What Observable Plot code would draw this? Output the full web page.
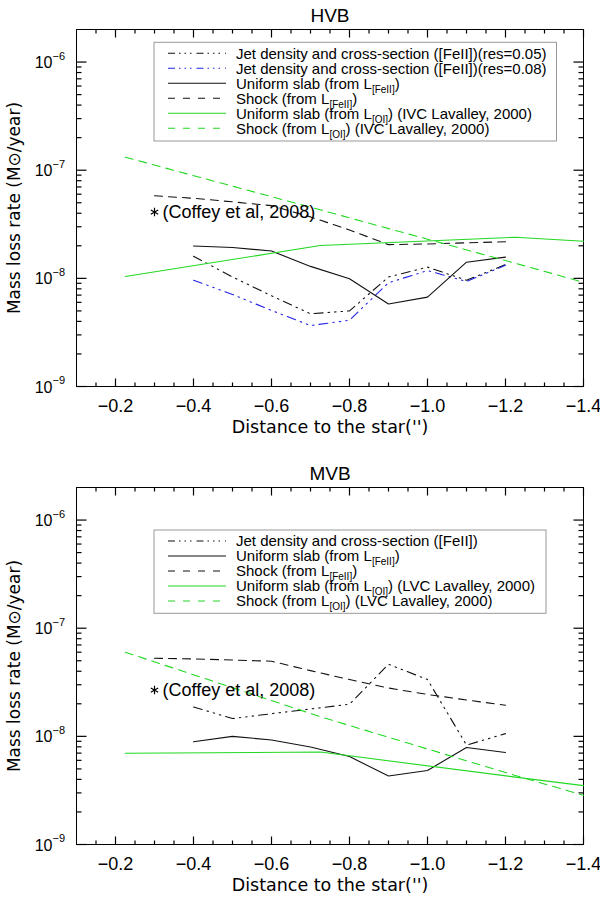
<!DOCTYPE html>
<html>
<head>
<meta charset="utf-8">
<script src="https://cdn.jsdelivr.net/npm/d3@7"></script>
<script src="https://cdn.jsdelivr.net/npm/@observablehq/plot@0.6"></script>
<style>
  html, body { margin: 0; padding: 0; background: #fff; }
  svg { display: block; }
</style>
</head>
<body>
<div id="chart"></div>
<script>
// ---------------- data ----------------
const feX    = [-0.4, -0.5, -0.6, -0.7, -0.8, -0.9, -1.0, -1.1, -1.2];
const shockX = [-0.3, -0.4, -0.5, -0.6, -0.7, -0.8, -0.9, -1.0, -1.1, -1.2];
const oiX    = [-0.225, -0.725, -1.225, -1.4];

// HVB
const hvbJet05   = [1.6e-8, 1.03e-8, 6.9e-9, 4.7e-9, 5.0e-9, 1.03e-8, 1.27e-8, 9.6e-9, 1.34e-8];
const hvbJet08   = [9.6e-9, 7.1e-9, 5.05e-9, 3.66e-9, 4.1e-9, 9.1e-9, 1.18e-8, 9.35e-9, 1.32e-8];
const hvbSlab    = [1.99e-8, 1.93e-8, 1.79e-8, 1.29e-8, 9.9e-9, 5.8e-9, 6.7e-9, 1.41e-8, 1.57e-8];
const hvbShock   = [5.8e-8, 5.5e-8, 5.1e-8, 4.7e-8, 3.7e-8, 2.8e-8, 2.05e-8, 2.08e-8, 2.13e-8, 2.18e-8];
const hvbOISlab  = [1.04e-8, 2.01e-8, 2.4e-8, 2.2e-8];
const hvbOIShock = [1.32e-7, 4.3e-8, 1.38e-8, 9.2e-9];
const hvbCoffey  = {x: -0.3, y: 4.1e-8};

// MVB
const mvbJet     = [1.87e-8, 1.46e-8, 1.62e-8, 1.79e-8, 1.98e-8, 4.64e-8, 3.35e-8, 8.3e-9, 1.06e-8];
const mvbSlab    = [8.9e-9, 1.0e-8, 9.25e-9, 7.96e-9, 6.5e-9, 4.3e-9, 4.84e-9, 7.9e-9, 7.1e-9];
const mvbShock   = [5.27e-8, 5.2e-8, 5.08e-8, 4.95e-8, 4.05e-8, 3.35e-8, 2.8e-8, 2.44e-8, 2.17e-8, 1.94e-8];
const mvbOISlab  = [6.97e-9, 7.16e-9, 4.2e-9, 3.5e-9];
const mvbOIShock = [6.0e-8, 1.52e-8, 4.35e-9, 2.85e-9];
const mvbCoffey  = {x: -0.3, y: 2.68e-8};

const coffeyLabel = "(Coffey et al, 2008)";

// axes
const xDomain = [-0.1, -1.4];
const yDomain = [1e-9, 2e-6];
const xMajor  = [-0.2, -0.4, -0.6, -0.8, -1.0, -1.2, -1.4];
const xMinor  = [-0.15, -0.25, -0.3, -0.35, -0.45, -0.5, -0.55, -0.65, -0.7, -0.75, -0.85, -0.9, -0.95, -1.05, -1.1, -1.15, -1.25, -1.3, -1.35];
const yMajor  = [1e-9, 1e-8, 1e-7, 1e-6];
const yMinor  = [2e-9, 3e-9, 4e-9, 5e-9, 6e-9, 7e-9, 8e-9, 9e-9,
                 2e-8, 3e-8, 4e-8, 5e-8, 6e-8, 7e-8, 8e-8, 9e-8,
                 2e-7, 3e-7, 4e-7, 5e-7, 6e-7, 7e-7, 8e-7, 9e-7];
const yExp    = ["−9", "−8", "−7", "−6"];
const xTitle  = "Distance to the star('')";
const yTitle  = "Mass loss rate (M⊙/year)";

// legend labels: [text, isSubscript]
const hvbLegend = [
  [["Jet density and cross-section ([FeII])(res=0.05)", false]],
  [["Jet density and cross-section ([FeII])(res=0.08)", false]],
  [["Uniform slab (from L", false], ["[FeII]", true], [")", false]],
  [["Shock (from L", false], ["[FeII]", true], [")", false]],
  [["Uniform slab (from L", false], ["[OI]", true], [") (IVC Lavalley, 2000)", false]],
  [["Shock (from L", false], ["[OI]", true], [") (IVC Lavalley, 2000)", false]]
];
const mvbLegend = [
  [["Jet density and cross-section ([FeII])", false]],
  [["Uniform slab (from L", false], ["[FeII]", true], [")", false]],
  [["Shock (from L", false], ["[FeII]", true], [")", false]],
  [["Uniform slab (from L", false], ["[OI]", true], [") (LVC Lavalley, 2000)", false]],
  [["Shock (from L", false], ["[OI]", true], [") (LVC Lavalley, 2000)", false]]
];

// ---------------- styles ----------------
const BLACK = "#111";
const BLUE = "#2222e6";
const GREEN = "#22d822";
const DASH = "8,6";
const DDD = "9,5,1.5,5,1.5,5,1.5,5";
const LEG_DASH = "7,8";
const LEG_DDD = "7,4,1.5,4,1.5,4,1.5,5";

const W = 600, ML = 76, MR = 17, MT = 29;

const rows = (xs, ys) => xs.map((x, i) => ({x, y: ys[i]}));

function panel({title, series, coffey, legend, box, height, marginBottom}) {
  const fw = W - ML - MR;
  const fh = height - MT - marginBottom;
  const decades = Math.log10(yDomain[1] / yDomain[0]);
  const yf = len => Math.pow(10, len * decades / fh);
  const xd = len => len * (xDomain[1] - xDomain[0]) / fw;
  const tickRowsX = [];
  const tickRowsY = [];
  [[xMajor, 8], [xMinor, 4]].forEach(([vals, len]) => vals.forEach(v => {
    tickRowsX.push({x: v, y1: yDomain[0], y2: yDomain[0] * yf(len)});
    tickRowsX.push({x: v, y1: yDomain[1], y2: yDomain[1] / yf(len)});
  }));
  [[yMajor, 10], [yMinor, 5]].forEach(([vals, len]) => vals.forEach(v => {
    tickRowsY.push({y: v, x1: xDomain[0], x2: xDomain[0] + xd(len)});
    tickRowsY.push({y: v, x1: xDomain[1], x2: xDomain[1] - xd(len)});
  }));
  const marks = [
    Plot.link(tickRowsX, {x1: "x", x2: "x", y1: "y1", y2: "y2", stroke: "black", strokeWidth: 1.2}),
    Plot.link(tickRowsY, {y1: "y", y2: "y", x1: "x1", x2: "x2", stroke: "black", strokeWidth: 1.2}),
    Plot.frame({stroke: "black", strokeWidth: 1}),
    Plot.text(xMajor, {x: d => d, text: d => d3.format(".1f")(d), frameAnchor: "bottom", lineAnchor: "middle", dy: 20, fontSize: 18, letterSpacing: "1.3px"}),
    Plot.text(yMajor, {y: d => d, text: () => "10", frameAnchor: "left", textAnchor: "end", lineAnchor: "middle", dx: -24, dy: 1, fontSize: 16}),
    Plot.text(yMajor, {y: d => d, text: (d, i) => yExp[i], frameAnchor: "left", textAnchor: "start", lineAnchor: "middle", dx: -24, dy: -6, fontSize: 11}),
    Plot.text([title], {frameAnchor: "top", lineAnchor: "middle", textAnchor: "middle", dy: -14, fontSize: 19}),
    Plot.text([xTitle], {frameAnchor: "bottom", lineAnchor: "middle", textAnchor: "middle", dy: 41, fontSize: 17.5, fontFamily: "DejaVu Sans"}),
    Plot.text([yTitle], {frameAnchor: "left", lineAnchor: "middle", textAnchor: "middle", dx: -62, rotate: -90, fontSize: 17, fontFamily: "DejaVu Sans", letterSpacing: "0.3px"}),
  ];
  series.forEach(s => {
    marks.push(Plot.line(rows(s.x, s.y), {x: "x", y: "y", stroke: s.color, strokeWidth: 1.1, strokeDasharray: s.dash || null}));
  });
  marks.push(Plot.dot([coffey], {x: "x", y: "y", symbol: "asterisk", r: 4, stroke: "black", strokeWidth: 1.2}));
  marks.push(Plot.text([coffey], {x: "x", y: "y", text: () => coffeyLabel, textAnchor: "start", lineAnchor: "middle", dx: 8, fontSize: 18}));

  const svg = Plot.plot({
    width: W, height, marginTop: MT, marginBottom, marginLeft: ML, marginRight: MR,
    x: {domain: xDomain, axis: null},
    y: {type: "log", domain: yDomain, axis: null},
    style: {fontFamily: "'Liberation Sans', Arial, sans-serif", background: "white", color: "black", overflow: "visible"},
    marks
  });

  // legend
  const g = d3.select(svg).append("g").attr("class", "legend");
  g.append("rect").attr("x", box.x).attr("y", box.y).attr("width", box.w).attr("height", box.h)
    .attr("fill", "white").attr("stroke", "#999").attr("stroke-width", 1);
  legend.forEach((parts, i) => {
    const s = series[i];
    const yy = box.y + 11 + i * 15;
    g.append("line").attr("x1", 168).attr("x2", 226).attr("y1", yy).attr("y2", yy)
      .attr("stroke", s.color).attr("stroke-width", 1.1)
      .attr("stroke-dasharray", s.dash ? (s.dash === DASH ? LEG_DASH : LEG_DDD) : null);
    const t = g.append("text").attr("x", 236).attr("y", yy).attr("dy", "0.35em")
      .attr("text-anchor", "start").attr("font-size", 15).attr("fill", "black");
    let shifted = false;
    parts.forEach(([txt, sub]) => {
      const sp = t.append("tspan").text(txt);
      if (sub) { sp.attr("font-size", 10).attr("dy", 4); shifted = true; }
      else if (shifted) { sp.attr("dy", -4); shifted = false; }
    });
  });
  return svg;
}

const root = document.getElementById("chart");

root.appendChild(panel({
  title: "HVB",
  series: [
    {x: feX, y: hvbJet05, color: BLACK, dash: DDD},
    {x: feX, y: hvbJet08, color: BLUE, dash: DDD},
    {x: feX, y: hvbSlab, color: BLACK},
    {x: shockX, y: hvbShock, color: BLACK, dash: DASH},
    {x: oiX, y: hvbOISlab, color: GREEN},
    {x: oiX, y: hvbOIShock, color: GREEN, dash: DASH}
  ],
  coffey: hvbCoffey,
  legend: hvbLegend,
  box: {x: 154, y: 42.3, w: 402.5, h: 98.7},
  height: 458, marginBottom: 72
}));

root.appendChild(panel({
  title: "MVB",
  series: [
    {x: feX, y: mvbJet, color: BLACK, dash: DDD},
    {x: feX, y: mvbSlab, color: BLACK},
    {x: shockX, y: mvbShock, color: BLACK, dash: DASH},
    {x: oiX, y: mvbOISlab, color: GREEN},
    {x: oiX, y: mvbOIShock, color: GREEN, dash: DASH}
  ],
  coffey: mvbCoffey,
  legend: mvbLegend,
  box: {x: 154, y: 72, w: 392, h: 83.3},
  height: 439, marginBottom: 53
}));
</script>
</body>
</html>
